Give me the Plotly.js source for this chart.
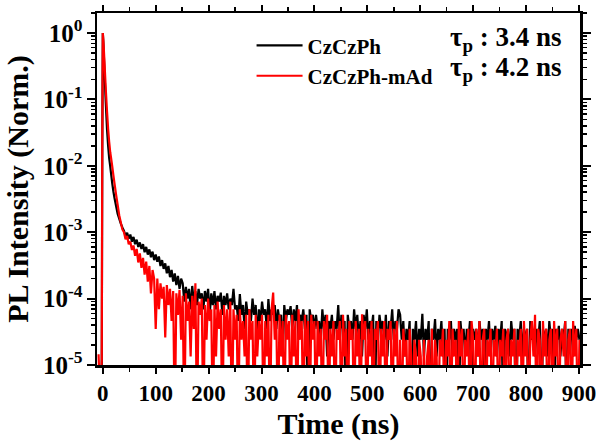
<!DOCTYPE html>
<html>
<head>
<meta charset="utf-8">
<script src="https://cdn.plot.ly/plotly-3.0.1.min.js"></script>
<style>html,body{margin:0;padding:0;background:#fff;}#chart{width:597px;height:441px;}</style>
</head>
<body>
<div id="chart"></div>
<script>
// Time axis (ns)
const timeNs = [-10,-8,-6,-4,-2,-1,0,1,2,3,4,5,6,8,10,12,14,16,18,20,22,25,28,31,34,37,
40,43,46,49,52,55,58,61,64,67,70,73,76,79,82,85,88,91,94,97,100,
103,106,109,112,115,118,121,124,127,130,133,136,139,142,145,148,
151,154,157,160,163,166,169,172,175,178,181,184,187,190,193,196,199,202,205,208,211,214,217,220,223,226,229,232,235,238,241,244,247,250,
253,256,259,262,265,268,271,274,277,280,283,286,289,292,295,298,301,304,307,310,313,316,319,322,325,328,331,334,337,340,343,346,349,352,355,358,361,364,367,370,373,376,379,382,385,388,391,394,397,400,
403,406,409,412,415,418,421,424,427,430,433,436,439,442,445,448,451,454,457,460,463,466,469,472,475,478,481,484,487,490,493,496,499,502,505,508,511,514,517,520,523,526,529,532,535,538,541,544,547,550,553,556,559,
562,565,568,571,574,577,580,583,586,589,592,595,598,601,604,607,610,613,616,619,622,625,628,631,634,637,640,643,646,649,652,655,658,661,664,667,670,673,676,679,682,685,688,691,694,697,700,703,706,709,712,715,718,721,724,727,730,733,736,739,742,745,748,751,754,757,760,763,766,769,772,775,778,781,784,787,790,793,796,799,802,805,808,811,814,817,820,823,826,829,832,835,838,841,844,847,850,853,856,859,862,865,868,871,874,877,880,883,886,889,892,895,898,901];

// CzCzPh (black), normalized PL intensity
const czczph = [1.0e-5,5e-6,1.0e-5,5e-6,1.0e-5,0.02,1.0,0.72,0.45,0.28,0.18,0.115,0.076,0.035,0.02,0.013,0.0098,0.0072,0.0053,0.0041,0.0033,0.0025,0.0019,0.0016,0.00135,0.00118,
1.05e-3,8.8e-4,9.8e-4,8.0e-4,9.2e-4,7.2e-4,8.5e-4,6.6e-4,7.7e-4,6.0e-4,7.0e-4,5.6e-4,6.6e-4,5.0e-4,6.0e-4,4.6e-4,5.5e-4,4.2e-4,5.1e-4,3.8e-4,4.6e-4,
3.6e-4,4.3e-4,3.1e-4,3.8e-4,2.8e-4,3.4e-4,2.4e-4,3.1e-4,2.1e-4,2.7e-4,1.8e-4,2.4e-4,1.6e-4,2.2e-4,1.4e-4,2.0e-4,
1.7e-4,9.0e-5,1.5e-4,1.0e-4,1.4e-4,6.9e-5,1.55e-4,9.0e-5,1.3e-4,8.0e-5,1.4e-4,1.0e-4,1.2e-4,6.9e-5,1.3e-4,9.0e-5,1.4e-4,5.7e-5,1.2e-4,8.0e-5,1.3e-4,6.9e-5,1.1e-4,9.0e-5,1.23e-4,5.7e-5,1.1e-4,8.0e-5,1.2e-4,6.9e-5,1.0e-4,8.0e-5,1.4e-4,6.9e-5,
8.0e-5,4.6e-5,1.17e-4,5.7e-5,8.0e-5,3.5e-5,9.0e-5,5.7e-5,6.9e-5,4.6e-5,
1.0e-4,5.7e-5,8.0e-5,2.4e-5,6.9e-5,4.6e-5,9.0e-5,5.7e-5,6.9e-5,3.5e-5,
9.8e-5,4.6e-5,6.9e-5,5.7e-5,8.0e-5,3.5e-5,6.9e-5,4.6e-5,5.7e-5,1.35e-5,
8.0e-5,4.6e-5,6.9e-5,5.7e-5,7.7e-5,3.5e-5,6.9e-5,4.6e-5,8.0e-5,2.4e-5,
5.7e-5,4.6e-5,6.9e-5,3.5e-5,5.7e-5,1.0e-6,6.9e-5,4.6e-5,5.7e-5,3.5e-5,
5.7e-5,3.5e-5,4.6e-5,2.4e-5,6.9e-5,3.5e-5,5.7e-5,1.35e-5,4.6e-5,3.5e-5,
5.7e-5,2.4e-5,4.6e-5,3.5e-5,8.0e-5,2.4e-5,5.7e-5,3.5e-5,4.6e-5,1.0e-6,
5.7e-5,3.5e-5,4.6e-5,2.4e-5,6.9e-5,3.5e-5,5.7e-5,2.4e-5,4.6e-5,1.35e-5,
5.7e-5,3.5e-5,6.9e-5,2.4e-5,4.6e-5,3.5e-5,5.7e-5,1.0e-6,4.6e-5,2.4e-5,
5.7e-5,3.5e-5,4.6e-5,2.4e-5,5.7e-5,1.35e-5,4.6e-5,3.5e-5,6.9e-5,2.4e-5,
4.6e-5,3.5e-5,6.9e-5,
5.7e-5,2.4e-5,4.6e-5,1.35e-5,3.5e-5,2.4e-5,4.6e-5,1.0e-6,3.5e-5,2.4e-5,
4.6e-5,1.35e-5,3.5e-5,2.4e-5,5.9e-5,1.35e-5,3.5e-5,2.4e-5,4.6e-5,1.0e-6,
3.5e-5,2.4e-5,4.9e-5,1.35e-5,3.5e-5,2.4e-5,4.6e-5,1.35e-5,3.5e-5,1.0e-6,
3.5e-5,2.4e-5,4.6e-5,1.35e-5,3.5e-5,2.4e-5,3.5e-5,1.0e-6,4.6e-5,2.4e-5,
3.5e-5,1.35e-5,3.5e-5,2.4e-5,4.6e-5,1.0e-6,3.5e-5,2.4e-5,3.5e-5,1.35e-5,
4.6e-5,2.4e-5,3.5e-5,1.0e-6,3.5e-5,2.4e-5,4.6e-5,1.35e-5,3.5e-5,2.4e-5,
3.9e-5,1.35e-5,3.5e-5,2.4e-5,4.6e-5,1.0e-6,3.5e-5,2.4e-5,3.5e-5,1.35e-5,
4.6e-5,2.4e-5,3.5e-5,1.0e-6,3.5e-5,2.4e-5,4.6e-5,1.35e-5,3.5e-5,2.4e-5,
3.5e-5,1.0e-6,4.6e-5,2.4e-5,3.5e-5,1.35e-5,3.5e-5,2.4e-5,4.6e-5,1.0e-6,
3.5e-5,2.4e-5,3.5e-5,1.35e-5,4.6e-5,2.4e-5,3.5e-5,1.0e-6,3.5e-5,2.4e-5,
3.9e-5,1.35e-5,3.5e-5,2.4e-5,4.6e-5,1.0e-6,3.5e-5,2.4e-5,3.5e-5,1.35e-5,
3.9e-5,2.4e-5,3.5e-5,2.4e-5];

// CzCzPh-mAd (red), normalized PL intensity
const czczphMAd = [1.4e-5,1.4e-5,5e-6,5e-6,1.2e-5,0.03,1.0,0.78,0.55,0.38,0.26,0.18,0.125,0.065,0.036,0.023,0.016,0.0125,0.0095,0.0072,0.0055,0.0037,0.0026,0.0018,0.0014,0.0011,
1.0e-3,7.8e-4,8.8e-4,6.6e-4,7.2e-4,5.4e-4,6.3e-4,4.4e-4,5.6e-4,3.5e-4,4.8e-4,2.9e-4,4.1e-4,2.3e-4,3.6e-4,1.8e-4,3.1e-4,1.2e-4,2.7e-4,2.0e-4,3.5e-5,
2.0e-4,6.9e-5,1.7e-4,1.0e-4,1.5e-4,2.6e-5,1.6e-4,8.0e-5,1.4e-4,4.6e-5,1.3e-4,1.0e-6,1.2e-4,5.7e-5,1.35e-4,2.4e-5,
1.1e-4,1.0e-6,1.2e-4,4.6e-5,9.0e-5,1.35e-5,1.1e-4,3.5e-5,1.7e-4,1.0e-6,9.0e-5,5.7e-5,1.0e-4,1.0e-6,8.0e-5,2.4e-5,1.0e-4,4.6e-5,6.9e-5,1.0e-6,8.0e-5,1.35e-5,9.0e-5,3.5e-5,6.9e-5,1.0e-6,8.0e-5,2.4e-5,6.9e-5,1.35e-5,9.0e-5,1.0e-6,6.9e-5,2.4e-5,
5.7e-5,1.0e-6,6.9e-5,2.4e-5,4.6e-5,1.35e-5,5.7e-5,1.0e-6,6.9e-5,2.4e-5,
4.6e-5,1.0e-6,5.7e-5,1.35e-5,4.6e-5,2.4e-5,5.7e-5,1.0e-6,4.6e-5,1.35e-5,
5.7e-5,1.0e-6,6.9e-5,1.23e-4,2.4e-5,4.6e-5,1.0e-6,5.7e-5,1.35e-5,4.6e-5,
1.0e-6,5.7e-5,2.4e-5,4.6e-5,1.0e-6,5.7e-5,1.35e-5,4.6e-5,1.0e-6,6.9e-5,
2.4e-5,4.6e-5,1.0e-6,5.7e-5,1.35e-5,4.6e-5,1.0e-6,5.7e-5,2.4e-5,4.6e-5,
1.0e-6,4.6e-5,1.35e-5,3.5e-5,1.0e-6,4.6e-5,2.4e-5,5.7e-5,1.0e-6,3.5e-5,
1.35e-5,4.6e-5,1.0e-6,3.5e-5,2.4e-5,4.6e-5,1.0e-6,5.7e-5,1.35e-5,3.5e-5,
1.0e-6,4.6e-5,2.4e-5,3.5e-5,1.0e-6,4.6e-5,1.35e-5,3.5e-5,1.0e-6,5.8e-5,
2.4e-5,4.6e-5,1.0e-6,3.5e-5,1.35e-5,4.6e-5,1.0e-6,3.5e-5,2.4e-5,4.6e-5,
1.0e-6,3.5e-5,1.35e-5,4.6e-5,1.0e-6,3.5e-5,2.4e-5,4.6e-5,1.0e-6,3.5e-5,
1.35e-5,4.6e-5,1.0e-6,
2.4e-5,1.0e-6,3.5e-5,1.35e-5,2.4e-5,1.0e-6,3.5e-5,1.35e-5,1.0e-6,2.4e-5,
1.35e-5,1.0e-6,2.4e-5,1.35e-5,1.0e-6,2.4e-5,1.0e-6,1.35e-5,2.4e-5,1.0e-6,
3.5e-5,1.0e-6,2.4e-5,1.35e-5,1.0e-6,2.4e-5,1.35e-5,3.5e-5,1.0e-6,2.4e-5,
1.35e-5,4.6e-5,1.0e-6,3.5e-5,1.35e-5,2.4e-5,1.0e-6,4.6e-5,1.35e-5,3.5e-5,
1.0e-6,2.4e-5,1.35e-5,3.5e-5,1.0e-6,4.6e-5,2.4e-5,1.0e-6,3.5e-5,1.35e-5,
4.6e-5,1.0e-6,2.4e-5,3.5e-5,1.0e-6,2.4e-5,1.35e-5,3.5e-5,1.0e-6,2.4e-5,
1.35e-5,3.5e-5,1.0e-6,2.4e-5,1.35e-5,3.5e-5,1.0e-6,2.4e-5,3.5e-5,1.0e-6,
2.4e-5,1.35e-5,3.5e-5,1.0e-6,2.4e-5,1.35e-5,3.5e-5,1.0e-6,4.6e-5,1.35e-5,
3.5e-5,1.0e-6,2.4e-5,4.6e-5,1.35e-5,5.7e-5,1.0e-6,3.5e-5,2.4e-5,1.0e-6,
4.6e-5,1.35e-5,3.5e-5,1.0e-6,2.4e-5,3.5e-5,1.0e-6,4.6e-5,1.35e-5,3.5e-5,
1.0e-6,2.4e-5,3.5e-5,1.35e-5,4.6e-5,1.0e-6,2.4e-5,3.5e-5,1.0e-6,4.6e-5,
1.35e-5,3.5e-5,1.0e-6,2.4e-5];

const seriesNames = ['CzCzPh', 'CzCzPh-mAd'];
const lifetimes = ['τ<sub>p</sub> : 3.4 ns', 'τ<sub>p</sub> : 4.2 ns'];
// decade tick labels shown as 10^n
const yLabelAlias = {
  '1': '10<sup>0</sup>',
  '10<sup>\u22121</sup>': '10<sup>-1</sup>',
  '10<sup>\u22122</sup>': '10<sup>-2</sup>',
  '10<sup>\u22123</sup>': '10<sup>-3</sup>',
  '10<sup>\u22124</sup>': '10<sup>-4</sup>',
  '10<sup>\u22125</sup>': '10<sup>-5</sup>'
};

const serif = 'Liberation Serif, Times New Roman, serif';

const traces = [
  {x: timeNs, y: czczph, name: seriesNames[0], type: 'scatter', mode: 'lines',
   line: {color: '#000000', width: 2.2, simplify: false}},
  {x: timeNs, y: czczphMAd, name: seriesNames[1], type: 'scatter', mode: 'lines',
   line: {color: '#ff0000', width: 2.2, simplify: false}}
];

const layout = {
  width: 597, height: 441,
  margin: {l: 97, r: 17, t: 13, b: 76},
  paper_bgcolor: '#ffffff', plot_bgcolor: '#ffffff',
  showlegend: true,
  legend: {x: 0.32, y: 0.965, xanchor: 'left', yanchor: 'top', bgcolor: 'rgba(0,0,0,0)',
    itemwidth: 46, tracegroupgap: 0,
    font: {family: serif, size: 21, weight: 'bold', color: '#000'}},
  xaxis: {
    range: [-11, 902], tickmode: 'linear', tick0: 0, dtick: 100,
    ticks: 'outside', ticklen: 6, tickwidth: 2, tickcolor: '#000',
    showline: true, linewidth: 2.5, linecolor: '#000', mirror: 'allticks',
    showgrid: false, zeroline: false,
    minor: {tick0: 0, dtick: 50, ticks: 'outside', ticklen: 4, tickwidth: 1.5, tickcolor: '#000', showgrid: false},
    tickfont: {family: serif, size: 23, weight: 'bold', color: '#000'},
    title: {text: 'Time (ns)', font: {family: serif, size: 30, weight: 'bold', color: '#000'}, standoff: 10}
  },
  yaxis: {
    type: 'log', range: [-5, 0.301], tickmode: 'linear', tick0: 0, dtick: 1,
    exponentformat: 'power', showexponent: 'all', labelalias: yLabelAlias,
    ticks: 'outside', ticklen: 8, tickwidth: 2, tickcolor: '#000',
    showline: true, linewidth: 2.5, linecolor: '#000', mirror: 'allticks',
    showgrid: false, zeroline: false,
    minor: {dtick: 'D1', ticks: 'outside', ticklen: 4, tickwidth: 1.5, tickcolor: '#000', showgrid: false},
    tickfont: {family: serif, size: 20, weight: 'bold', color: '#000'},
    title: {text: 'PL Intensity (Norm.)', font: {family: serif, size: 30, weight: 'bold', color: '#000'}, standoff: 6}
  },
  annotations: [
    {xref: 'paper', yref: 'paper', x: 0.726, y: 0.925, xanchor: 'left', yanchor: 'middle', showarrow: false,
     text: lifetimes[0], font: {family: serif, size: 27, weight: 'bold', color: '#000'}},
    {xref: 'paper', yref: 'paper', x: 0.726, y: 0.84, xanchor: 'left', yanchor: 'middle', showarrow: false,
     text: lifetimes[1], font: {family: serif, size: 27, weight: 'bold', color: '#000'}}
  ]
};

Plotly.newPlot('chart', traces, layout, {staticPlot: true, displayModeBar: false});
</script>
</body>
</html>
